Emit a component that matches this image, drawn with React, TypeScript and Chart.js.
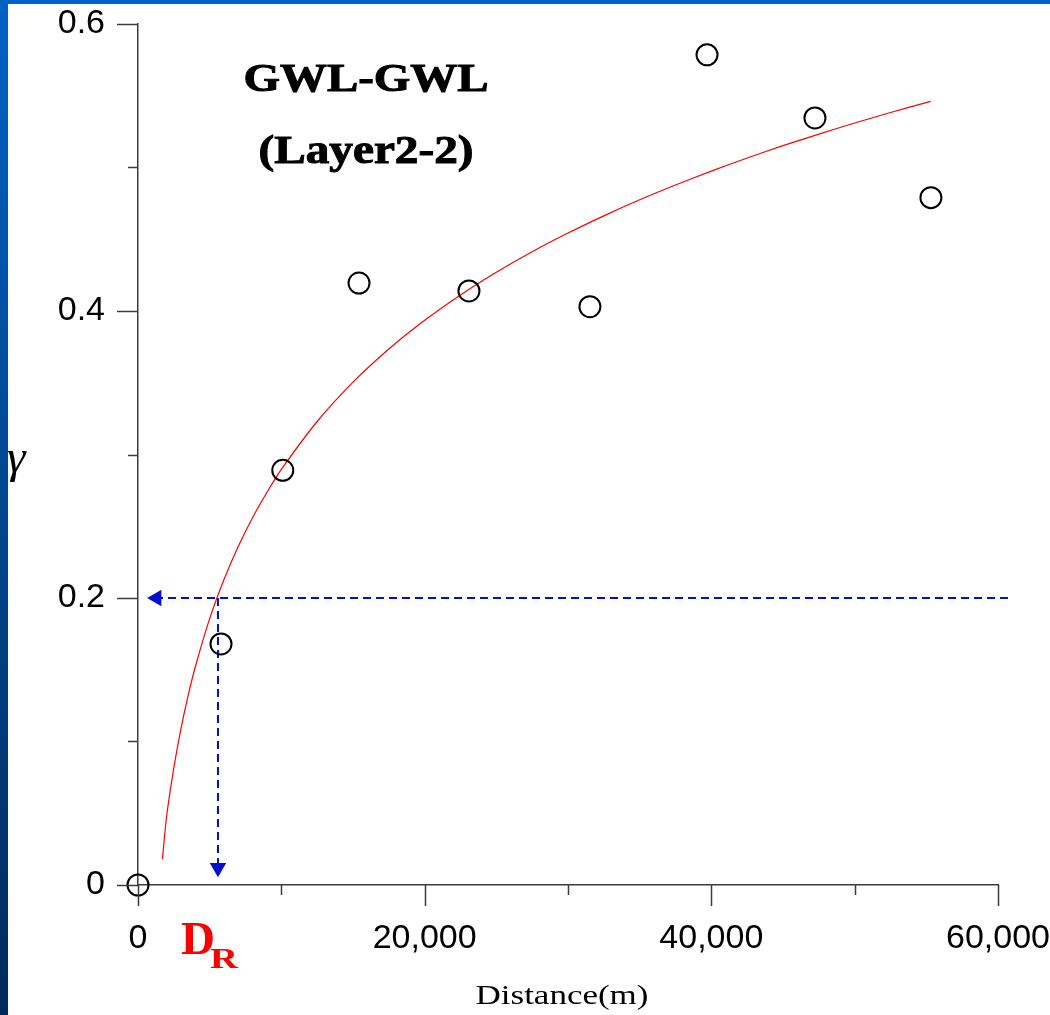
import React, { useEffect, useRef } from "react";
import { Chart, registerables } from "chart.js";

Chart.register(...registerables);

// Observed semivariogram points (distance in m, gamma)
const obsDistance = [0, 5790, 10100, 15420, 23090, 31530, 39700, 47230, 55320];
const obsGamma = [0, 0.168, 0.289, 0.4195, 0.414, 0.403, 0.5785, 0.5345, 0.479];

// Fitted model curve
const fitDistance = [1700, 2000, 2500, 3000, 3500, 4000, 5000, 6000, 7000, 8000, 9000, 10000, 12500, 15000, 17500, 20000, 22500, 25000, 27500, 30000, 32500, 35000, 37500, 40000, 42500, 45000, 47500, 50000, 52500, 55300];
const fitGamma = [0.018, 0.0481, 0.0816, 0.109, 0.1321, 0.1521, 0.1856, 0.2129, 0.2361, 0.2561, 0.2737, 0.2896, 0.323, 0.3504, 0.3735, 0.3935, 0.4112, 0.427, 0.4413, 0.4543, 0.4663, 0.4775, 0.4878, 0.4975, 0.5066, 0.5152, 0.5233, 0.531, 0.5383, 0.5461];

// Guide lines: D_R read-off at gamma = 0.2
const rangeDR = 5580;
const guideGamma = 0.2;
const hGuideDistance = [60700, 1300];
const vGuideGamma = [0.2, 0.012];

// Axis ticks
const xTickValues = [0, 10000, 20000, 30000, 40000, 50000, 60000];
const xMajorTicks = [0, 20000, 40000, 60000];
const yTickValues = [0, 0.1, 0.2, 0.3, 0.4, 0.5, 0.6];
const yMajorTicks = [0, 0.2, 0.4, 0.6];

const titleLines = ["GWL-GWL", "(Layer2-2)"];
const xAxisTitle = "Distance(m)";
const yAxisTitle = "γ";

const AXIS_COLOR = "#3c3c3c";
const BLUE = "#0010d0";

const tickPlugin = {
  id: "customTicks",
  afterDraw(chart: any) {
    const { ctx, scales, chartArea } = chart;
    const xs = scales.x;
    const ys = scales.y;
    ctx.save();
    ctx.strokeStyle = AXIS_COLOR;
    ctx.lineWidth = 1.5;
    ctx.beginPath();
    xTickValues.forEach((v) => {
      const px = Math.round(xs.getPixelForValue(v)) + 0.5;
      const len = xMajorTicks.includes(v) ? 21 : 10;
      ctx.moveTo(px, chartArea.bottom);
      ctx.lineTo(px, chartArea.bottom + len);
    });
    yTickValues.forEach((v) => {
      const py = Math.round(ys.getPixelForValue(v)) + 0.5;
      const len = yMajorTicks.some((m) => Math.abs(m - v) < 1e-9) ? 21 : 10;
      ctx.moveTo(chartArea.left, py);
      ctx.lineTo(chartArea.left - len, py);
    });
    ctx.stroke();
    ctx.restore();
  },
};

function drawStretched(ctx: any, text: string, font: string, x: number, y: number, targetWidth: number, align: string, strokeW: number) {
  ctx.save();
  ctx.font = font;
  const w = ctx.measureText(text).width;
  const sx = targetWidth / w;
  ctx.translate(x, y);
  ctx.scale(sx, 1);
  ctx.textAlign = align;
  ctx.textBaseline = "alphabetic";
  ctx.fillText(text, 0, 0);
  if (strokeW > 0) {
    ctx.lineWidth = strokeW;
    ctx.strokeStyle = ctx.fillStyle;
    ctx.strokeText(text, 0, 0);
  }
  ctx.restore();
}

const textPlugin = {
  id: "annotText",
  afterDraw(chart: any) {
    const { ctx } = chart;
    ctx.save();
    ctx.fillStyle = "#000";
    drawStretched(ctx, titleLines[0], 'bold 40px "Liberation Serif"', 366, 91, 245, "center", 1);
    drawStretched(ctx, titleLines[1], 'bold 40px "Liberation Serif"', 366, 163, 215, "center", 1);
    drawStretched(ctx, xAxisTitle, '27px "Liberation Serif"', 562, 1004, 173, "center", 0);
    ctx.font = 'italic 47px "Liberation Serif"';
    ctx.textAlign = "left";
    ctx.textBaseline = "alphabetic";
    ctx.fillText(yAxisTitle, 7, 472);
    ctx.fillStyle = "#ff0000";
    drawStretched(ctx, "D", 'bold 47px "Liberation Serif"', 181, 954, 34, "left", 0);
    drawStretched(ctx, "R", 'bold 30px "Liberation Serif"', 210, 968, 28, "left", 0);
    ctx.restore();
  },
};

export default function App() {
  const canvasRef = useRef<HTMLCanvasElement | null>(null);

  useEffect(() => {
    const canvas = canvasRef.current;
    if (!canvas) return;
    const chart = new Chart(canvas, {
      type: "scatter",
      data: {
        datasets: [
          {
            label: "observed",
            data: obsDistance.map((d, i) => ({ x: d, y: obsGamma[i] })),
            showLine: false,
            pointStyle: "circle",
            pointRadius: 10.5,
            pointBorderWidth: 2,
            borderColor: "#000",
            backgroundColor: "rgba(0,0,0,0)",
            clip: false,
          },
          {
            label: "model",
            data: fitDistance.map((d, i) => ({ x: d, y: fitGamma[i] })),
            showLine: true,
            borderColor: "#ff0000",
            borderWidth: 1.2,
            pointRadius: 0,
            tension: 0.25,
            fill: false,
          },
          {
            label: "hGuide",
            data: hGuideDistance.map((d) => ({ x: d, y: guideGamma })),
            showLine: true,
            borderColor: BLUE,
            borderWidth: 2,
            borderDash: [8, 5],
            pointRadius: 0,
            clip: false,
          },
          {
            label: "vGuide",
            data: vGuideGamma.map((g) => ({ x: rangeDR, y: g })),
            showLine: true,
            borderColor: BLUE,
            borderWidth: 2,
            borderDash: [8, 5],
            pointRadius: 0,
            clip: false,
          },
          {
            label: "hArrow",
            data: [{ x: hGuideDistance[1], y: guideGamma }],
            showLine: false,
            pointStyle: "triangle",
            pointRotation: 270,
            pointRadius: 9.5,
            pointBorderWidth: 0,
            backgroundColor: BLUE,
            borderColor: BLUE,
            clip: false,
          },
          {
            label: "vArrow",
            data: [{ x: rangeDR, y: vGuideGamma[1] }],
            showLine: false,
            pointStyle: "triangle",
            pointRotation: 180,
            pointRadius: 9.5,
            pointBorderWidth: 0,
            backgroundColor: BLUE,
            borderColor: BLUE,
            clip: false,
          },
        ],
      },
      options: {
        responsive: false,
        maintainAspectRatio: false,
        devicePixelRatio: 1,
        animation: false,
        events: [],
        layout: { padding: { top: 24, right: 52, bottom: 0, left: 0 } },
        plugins: {
          legend: { display: false },
          tooltip: { enabled: false },
          title: { display: false },
        },
        scales: {
          x: {
            type: "linear",
            position: "bottom",
            min: 0,
            max: 60000,
            afterFit: (s: any) => {
              s.height = 130;
              s.paddingLeft = 0;
              s.paddingRight = 0;
            },
            afterBuildTicks: (s: any) => {
              s.ticks = xMajorTicks.map((v) => ({ value: v }));
            },
            ticks: {
              maxRotation: 0,
              autoSkip: false,
              padding: 33,
              color: "#000",
              font: { family: "Liberation Sans", size: 34 },
              callback: (v: any) => Number(v).toLocaleString("en-US"),
            },
            grid: { display: true, drawOnChartArea: false, drawTicks: false },
            border: { display: true, color: AXIS_COLOR, width: 1.5 },
          },
          y: {
            type: "linear",
            position: "left",
            min: 0,
            max: 0.6,
            afterFit: (s: any) => {
              s.width = 138;
              s.paddingTop = 0;
              s.paddingBottom = 0;
            },
            afterBuildTicks: (s: any) => {
              s.ticks = yMajorTicks.map((v) => ({ value: v }));
            },
            ticks: {
              padding: 33,
              color: "#000",
              font: { family: "Liberation Sans", size: 34 },
              callback: (v: any) => String(Math.round(Number(v) * 10) / 10),
            },
            grid: { display: true, drawOnChartArea: false, drawTicks: false },
            border: { display: true, color: AXIS_COLOR, width: 1.5 },
          },
        },
      },
      plugins: [tickPlugin, textPlugin],
    } as any);
    return () => chart.destroy();
  }, []);

  return (
    <div style={{ position: "fixed", left: 0, top: 0, width: 1050, height: 1015, background: "#ffffff", overflow: "hidden" }}>
      <div style={{ position: "absolute", left: 0, top: 0, width: 1050, height: 4, background: "#0062c4" }} />
      <div style={{ position: "absolute", left: 0, top: 0, width: 8, height: 1015, background: "linear-gradient(#0062c4, #002a5c)" }} />
      <canvas ref={canvasRef} width={1050} height={1015} style={{ position: "absolute", left: 0, top: 0, width: 1050, height: 1015 }} />
    </div>
  );
}
